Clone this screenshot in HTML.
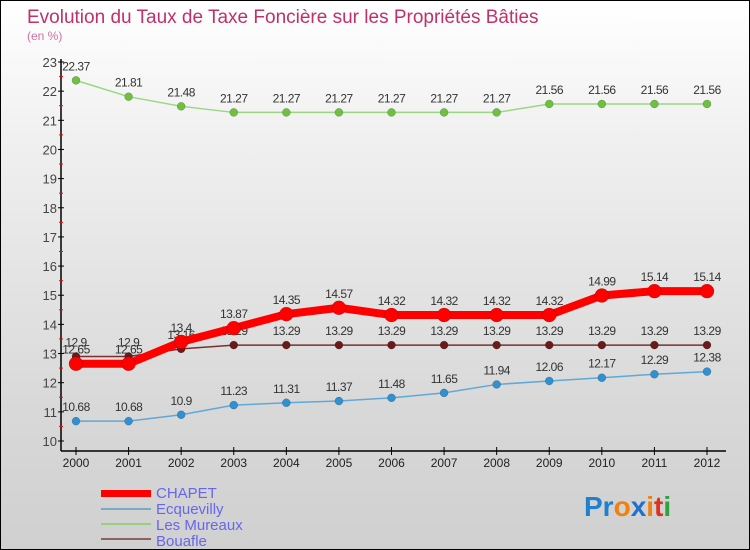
<!DOCTYPE html>
<html><head><meta charset="utf-8"><style>
body{margin:0}
#c{width:750px;height:550px;position:relative;overflow:hidden;box-sizing:border-box;border:1px solid #000;background:linear-gradient(#fff 0%,#f0f0f0 25%,#d8d8d8 75%,#d0d0d0 100%);font-family:"Liberation Sans",sans-serif}
</style></head><body>
<div id="c">
<svg id="s" width="750" height="550" style="position:absolute;left:0;top:0">
<text x="26" y="22" font-size="19" fill="#c0306a">Evolution du Taux de Taxe Foncière sur les Propriétés Bâties</text>
<text x="26" y="39" font-size="12" fill="#d070a0">(en %)</text>
<g id="axes"></g><g id="series"></g>
<g>
<rect x="100" y="489" width="50" height="7" fill="#f00"/>
<text x="155" y="497" font-size="15" fill="#6666ee">CHAPET</text>
<rect x="100" y="507" width="50" height="2" fill="#7aaac8"/>
<text x="155" y="513" font-size="15" fill="#6666ee">Ecquevilly</text>
<rect x="100" y="522" width="50" height="2" fill="#99d080"/>
<text x="155" y="529" font-size="15" fill="#6666ee">Les Mureaux</text>
<rect x="100" y="537" width="50" height="2" fill="#906060"/>
<text x="155" y="545" font-size="15" fill="#6666ee">Bouafle</text>
</g>
<g font-size="28" font-weight="bold">
<text x="583" y="515"><tspan fill="#2080d0">Pr</tspan><tspan fill="#f08010">o</tspan><tspan fill="#2070d0">x</tspan><tspan fill="#f08010">i</tspan><tspan fill="#e03020">t</tspan><tspan fill="#30a040">i</tspan></text>
</g>
</svg>
</div>
<script>
const years=[2000,2001,2002,2003,2004,2005,2006,2007,2008,2009,2010,2011,2012];
const yTicks=[10,11,12,13,14,15,16,17,18,19,20,21,22,23];
const chapet=[12.65,12.65,13.4,13.87,14.35,14.57,14.32,14.32,14.32,14.32,14.99,15.14,15.14];
const ecquevilly=[10.68,10.68,10.9,11.23,11.31,11.37,11.48,11.65,11.94,12.06,12.17,12.29,12.38];
const mureaux=[22.37,21.81,21.48,21.27,21.27,21.27,21.27,21.27,21.27,21.56,21.56,21.56,21.56];
const bouafle=[12.9,12.9,13.16,13.29,13.29,13.29,13.29,13.29,13.29,13.29,13.29,13.29,13.29];
const NS='http://www.w3.org/2000/svg';
const xS=i=>75+i*(706-75)/(years.length-1);
const yS=v=>440-(v-10)*(440-61)/13;
function mk(t,a,p){const e=document.createElementNS(NS,t);for(const k in a)e.setAttribute(k,a[k]);p.appendChild(e);return e;}
const ax=document.getElementById('axes');
const yl=mk('line',{x1:60,y1:58,x2:60,y2:450,stroke:'#000','stroke-width':1.5},ax);


const xl=mk('line',{x1:60,y1:450,x2:725,y2:450,stroke:'#000','stroke-width':1.5},ax);


yTicks.forEach(v=>{const y=yS(v);
mk('line',{x1:57,y1:y,x2:63,y2:y,stroke:'#000'},ax);
if(v<23)mk('line',{x1:58,y1:y-14.6,x2:62,y2:y-14.6,stroke:'#f00'},ax);
const t=mk('text',{x:56,y:y+5,'font-size':13,fill:'#444','text-anchor':'end'},ax);t.textContent=v;

});
years.forEach((yr,i)=>{const x=xS(i);mk('line',{x1:x,y1:446,x2:x,y2:454,stroke:'#000'},ax);
const t=mk('text',{x:x,y:466,'font-size':12,fill:'#222','text-anchor':'middle'},ax);t.textContent=yr;

});
const sg=document.getElementById('series');
function series(vals,name,color,w,r,mfill){
const g=mk('g',{},sg);


mk('polyline',{points:vals.map((v,i)=>xS(i)+','+yS(v)).join(' '),fill:'none',stroke:color,'stroke-width':w,'stroke-linejoin':'round'},g);
vals.forEach((v,i)=>{const c=mk('circle',{cx:xS(i),cy:yS(v),r:r,fill:mfill,stroke:'rgba(0,0,0,0.3)','stroke-width':0.5},g);


const t=mk('text',{x:xS(i),y:yS(v)-10,'font-size':12,fill:'#333','text-anchor':'middle','letter-spacing':'-0.5'},g);t.textContent=v;

});}
series(mureaux,'les-mureaux','#99d880',1.5,4,'#70c040');
series(ecquevilly,'ecquevilly','#60a8d8',1.5,4,'#3090d0');
series(bouafle,'bouafle','#7a3030',1.5,4,'#6a1a1a');
series(chapet,'chapet','#f00',8,7,'#f00');
</script>
</body></html>
